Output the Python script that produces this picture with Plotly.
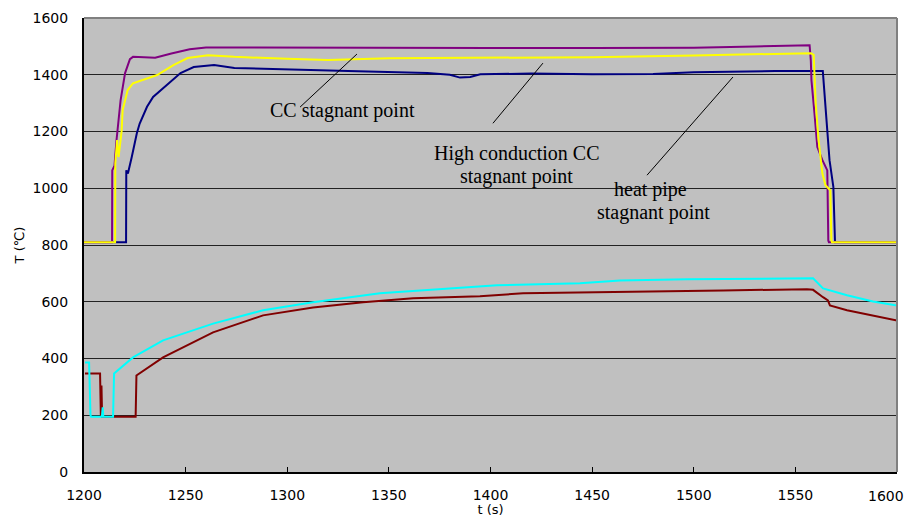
import plotly.graph_objects as go

# ---- data ----
cc_t = [1200, 1213.8, 1213.9, 1215, 1216, 1218, 1220.2, 1222.6, 1224.1, 1230, 1235, 1243, 1252, 1260,
        1300, 1350, 1400, 1450, 1500, 1530, 1552, 1557, 1557.6, 1557.9, 1559.4, 1560.8, 1563.3,
        1565.7, 1566.2, 1566.5, 1600]
cc_T = [810, 810, 1063, 1080, 1170, 1310, 1406, 1455, 1463, 1462, 1460, 1475, 1490, 1496,
        1495, 1494, 1494, 1494, 1495, 1500, 1503, 1504, 1450, 1381, 1264, 1145, 1099,
        1063, 816, 810, 810]

hc_t = [1200, 1215.3, 1215.4, 1216.3, 1217, 1218.5, 1219, 1221.5, 1224.1, 1231, 1236, 1244, 1251,
        1261, 1274, 1300, 1320, 1350, 1400, 1450, 1500, 1540, 1557.7, 1559, 1560, 1561.4, 1563.3,
        1564.8, 1567.2, 1567.7, 1568, 1600]
hc_T = [810, 810, 1088, 1170, 1110, 1200, 1275, 1346, 1370, 1388, 1399, 1434, 1459,
        1469, 1463, 1456, 1452, 1458, 1460, 1462, 1468, 1473, 1476, 1470, 1299, 1170, 1052,
        1011, 993, 817, 810, 810]

hp_t = [1200, 1220.7, 1220.8, 1221.6, 1223.5, 1226, 1227.4, 1231, 1234, 1241, 1247.5, 1254, 1264,
        1274, 1300, 1330, 1369, 1380, 1385, 1390, 1395, 1420, 1450, 1480, 1500, 1520, 1540,
        1563.5, 1564.3, 1565.8, 1566.8, 1568.7, 1569.2, 1569.5, 1600]
hp_T = [810, 810, 1063, 1052, 1110, 1194, 1228, 1287, 1322, 1364, 1406, 1427, 1434,
        1424, 1420, 1413, 1406, 1400, 1390, 1392, 1402, 1404, 1402, 1403, 1409, 1412, 1413,
        1413, 1335, 1194, 1099, 1004, 817, 810, 810]

cyan_t = [1200.5, 1202.5, 1203.2, 1203.5, 1208.8, 1209.2, 1209.5, 1214.3, 1214.8, 1224.1, 1238.9,
          1263.5, 1288.1, 1312.7, 1345.6, 1378.6, 1403.2, 1444, 1463.7, 1496.7, 1547.4, 1558.7,
          1563.6, 1575.4, 1588.2, 1600]
cyan_T = [386, 386, 200, 195, 195, 228, 195, 195, 347, 404, 464,
          523, 570, 598, 630, 647, 658, 665, 675, 679, 682, 683,
          647, 623, 601, 587]

brown_t = [1200.5, 1207.9, 1208.3, 1208.6, 1208.9, 1225.4, 1225.8, 1238.9, 1263.5, 1288.1, 1312.7,
           1337.3, 1361.9, 1394.8, 1416, 1440.6, 1468.6, 1514.4, 1555.7, 1558.7, 1563.6, 1566,
           1567, 1575.4, 1600]
brown_T = [347, 347, 195, 305, 195, 195, 340, 404, 492, 552, 580,
           598, 612, 619, 630, 633, 637, 640, 644, 642, 616, 605,
           587, 570, 534]

x_ticks = [1200, 1250, 1300, 1350, 1400, 1450, 1500, 1550, 1600]
y_ticks = [0, 200, 400, 600, 800, 1000, 1200, 1400, 1600]

# label text lines: (text, x, y)
label_lines = [
    ("CC stagnant point", 1327, 1275),
    ("High conduction CC", 1413, 1124),
    ("stagnant point", 1413, 1043),
    ("heat pipe", 1478.5, 997),
    ("stagnant point", 1480, 915),
]
# leader lines: (x0, y0, x1, y1)
leaders = [
    (1306.3, 1286, 1334.3, 1473),
    (1401.2, 1229, 1425.8, 1441),
    (1477, 1046, 1519.3, 1392),
]

fig = go.Figure()
fig.add_trace(go.Scatter(x=brown_t, y=brown_T, mode="lines", line=dict(color="#800000", width=2)))
fig.add_trace(go.Scatter(x=cyan_t, y=cyan_T, mode="lines", line=dict(color="#00FFFF", width=2)))
fig.add_trace(go.Scatter(x=hp_t, y=hp_T, mode="lines", line=dict(color="#000080", width=2)))
fig.add_trace(go.Scatter(x=cc_t, y=cc_T, mode="lines", line=dict(color="#800080", width=2)))
fig.add_trace(go.Scatter(x=hc_t, y=hc_T, mode="lines", line=dict(color="#FFFF00", width=2)))

serif = "Liberation Serif, Times New Roman, serif"
for text, tx, ty in label_lines:
    fig.add_annotation(x=tx, y=ty, xref="x", yref="y", text=text, showarrow=False,
                       font=dict(family=serif, size=20, color="black"), align="center")
for x0, y0, x1, y1 in leaders:
    fig.add_shape(type="line", xref="x", yref="y", x0=x0, y0=y0, x1=x1, y1=y1,
                  line=dict(color="black", width=1))

# grey frame on top and right
fig.add_shape(type="line", xref="paper", yref="paper", x0=0, x1=1, y0=1, y1=1,
              line=dict(color="#808080", width=2), layer="above")
fig.add_shape(type="line", xref="paper", yref="paper", x0=1, x1=1, y0=0, y1=1,
              line=dict(color="#808080", width=2), layer="above")

sans = "DejaVu Sans, Verdana, sans-serif"
# last x tick label drawn as annotation, nudged left so it is not cut at the page edge
x_text = [str(v) for v in x_ticks[:-1]] + [""]
fig.add_annotation(x=x_ticks[-1], y=0, xref="x", yref="paper", text=str(x_ticks[-1]),
                   showarrow=False, xanchor="right", yanchor="top", xshift=9, yshift=-14,
                   font=dict(family=sans, size=14, color="black"))

fig.update_layout(
    width=907, height=509,
    margin=dict(l=76, r=18, t=10, b=45),
    paper_bgcolor="white", plot_bgcolor="#C0C0C0",
    showlegend=False,
    font=dict(family=sans, size=14, color="black"),
)
fig.update_xaxes(range=[1200, 1600], tickvals=x_ticks, ticktext=x_text,
                 ticks="inside", ticklen=5, tickcolor="black", tickwidth=1,
                 showline=True, linecolor="black", linewidth=2,
                 showgrid=False, zeroline=False, ticklabelstandoff=9, automargin=False,
                 tickfont=dict(family=sans, size=14),
                 title=dict(text="t (s)", font=dict(family=sans, size=13), standoff=4))
fig.update_yaxes(range=[0, 1600], tickvals=y_ticks, ticktext=[str(v) for v in y_ticks],
                 ticks="", showline=True, linecolor="black", linewidth=2,
                 showgrid=True, gridcolor="#222222", gridwidth=1, zeroline=False,
                 ticklabelstandoff=11, automargin=False,
                 tickfont=dict(family=sans, size=14),
                 title=dict(text="T (℃)", font=dict(family=sans, size=13), standoff=5))

fig.write_html("out.html")
